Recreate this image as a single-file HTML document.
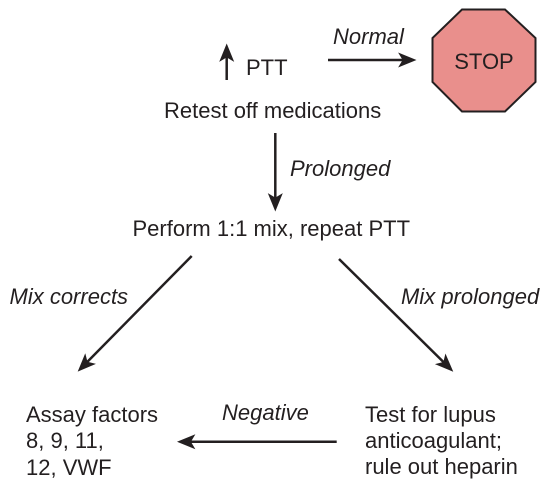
<!DOCTYPE html>
<html>
<head>
<meta charset="utf-8">
<style>
html,body{margin:0;padding:0;background:#fff;}
svg{display:block;}
text{font-family:"Liberation Sans",sans-serif;font-size:22px;fill:#231f20;}
.it{font-style:italic;}
</style>
</head>
<body>
<svg width="550" height="480" viewBox="0 0 550 480">
<defs>
<marker id="head" markerUnits="userSpaceOnUse" markerWidth="20" markerHeight="18" refX="12.4" refY="8" orient="auto">
<path d="M0,0.5 L18.4,8 L0,15.5 L4.5,8 Z" fill="#231f20"/>
</marker>
</defs>
<polygon points="462,9.5 505,9.5 535.5,38 535.5,82 505,111.5 462,111.5 432.5,82 432.5,38" fill="#e98f8c" stroke="#231f20" stroke-width="2"/>
<text x="484" y="69" text-anchor="middle">STOP</text>
<line x1="226.7" y1="80" x2="226.7" y2="49.5" stroke="#231f20" stroke-width="2.5" marker-end="url(#head)"/>
<text x="246" y="75">PTT</text>
<text class="it" x="333" y="44">Normal</text>
<line x1="328" y1="60" x2="410.5" y2="60" stroke="#231f20" stroke-width="2.5" marker-end="url(#head)"/>
<text x="164" y="118">Retest off medications</text>
<line x1="275.3" y1="133" x2="275.3" y2="205.5" stroke="#231f20" stroke-width="2.5" marker-end="url(#head)"/>
<text class="it" x="290" y="176">Prolonged</text>
<text x="132.5" y="236">Perform 1:1 mix, repeat PTT</text>
<line x1="191.7" y1="256" x2="81.9" y2="367.4" stroke="#231f20" stroke-width="2.5" marker-end="url(#head)"/>
<text class="it" x="9.5" y="304">Mix corrects</text>
<line x1="339" y1="259" x2="449" y2="367.5" stroke="#231f20" stroke-width="2.5" marker-end="url(#head)"/>
<text class="it" x="401" y="304">Mix prolonged</text>
<text x="26" y="422">Assay factors</text>
<text x="26" y="448">8, 9, 11,</text>
<text x="26" y="475">12, VWF</text>
<text class="it" x="222" y="420">Negative</text>
<line x1="336.7" y1="441.7" x2="183" y2="441.7" stroke="#231f20" stroke-width="2.5" marker-end="url(#head)"/>
<text x="365" y="422">Test for lupus</text>
<text x="365" y="448">anticoagulant;</text>
<text x="365" y="474">rule out heparin</text>
</svg>
</body>
</html>
